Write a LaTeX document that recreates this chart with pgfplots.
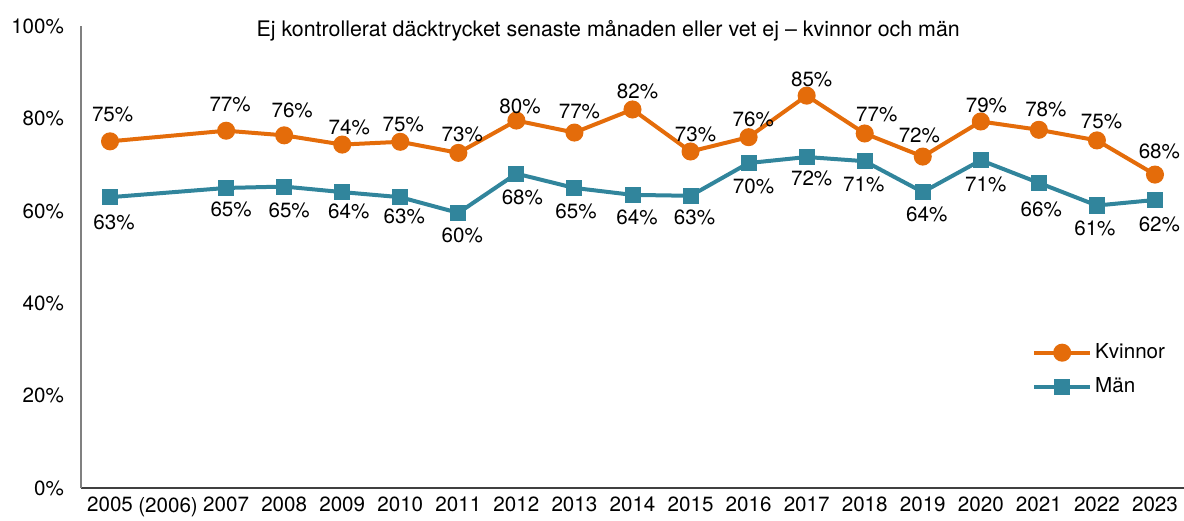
\documentclass[border=0pt]{standalone}
\usepackage{pgfplots}
\usepackage{pgfplotstable}
\pgfplotsset{compat=1.18}
\usepackage{fontspec}
\setmainfont{TeX Gyre Heros}
\definecolor{kv}{HTML}{E46C0A}
\definecolor{ma}{HTML}{31859C}
% x = category index, y = value (%), dx/dy = label offset in pt
\pgfplotstableread{
x  y     dx    dy
0  75.1  1.3   13.3
2  77.4  2.0   13.0
3  76.4  4.0   12.5
4  74.4  3.5   8.8
5  75.0  1.5   8.7
6  72.6  2.0   9.2
7  79.6  1.8   7.2
8  77.0  2.5   10.5
9  82.0  2.5   9.2
10 72.9  2.5   8.3
11 76.0  2.3   8.7
12 85.0  2.5   8.0
13 76.8  6.0   9.5
14 71.8  -1.7  10.8
15 79.4  2.8   8.0
16 77.6  3.5   10.0
17 75.3  2.3   9.5
18 67.9  2.2   11.7
}\kvinnor
\pgfplotstableread{
x  y     dx    dy
0  63.0  2.0   -12.5
2  65.0  2.5   -10.8
3  65.3  2.5   -11.7
4  64.1  3.3   -9.7
5  63.0  2.0   -9.7
6  59.6  2.0   -11.5
7  68.1  3.0   -11.7
8  65.0  0.8   -11.7
9  63.5  2.3   -11.2
10 63.3  2.0   -10.7
11 70.4  2.5   -11.7
12 71.7  2.5   -10.5
13 70.8  -0.5  -11.7
14 64.1  2.0   -11.3
15 71.0  2.5   -12.2
16 66.1  1.2   -13.3
17 61.2  -1.0  -11.3
18 62.4  2.2   -12.0
}\maen
\begin{document}
\begin{tikzpicture}
\begin{axis}[
  width=551.5pt, height=230.8pt, scale only axis,
  xmin=-0.5, xmax=18.5, ymin=0, ymax=100,
  /pgf/number format/assume math mode=true,
  axis x line=bottom, axis y line=left, axis line style={-},
  x axis line style={color=black!75, line width=0.7pt},
  y axis line style={color=black!50, line width=0.7pt},
  xtick={0,...,18},
  xticklabels={2005,(2006),2007,2008,2009,2010,2011,2012,2013,2014,2015,2016,2017,2018,2019,2020,2021,2022,2023},
  ytick={0,20,...,100},
  yticklabel={\pgfmathprintnumber{\tick}\%},
  major tick length=0pt,
  tick label style={font=\fontsize{10.3}{12}\selectfont},
  yticklabel style={xshift=-5pt},
  xticklabel style={yshift=-1pt},
  clip=false,
  nodes near coords={\pgfmathprintnumber[fixed,precision=0]{\pgfplotspointmeta}\%},
  visualization depends on={\thisrow{dx} \as \ldx},
  visualization depends on={\thisrow{dy} \as \ldy},
  every node near coord/.append style={anchor=center, xshift=\ldx pt, yshift=\ldy pt,
    color=black, font=\fontsize{10.3}{12}\selectfont, inner sep=0pt},
  legend style={draw=none, fill=none, at={(rel axis cs:0.862,0.32)}, anchor=north west,
    font=\fontsize{10.3}{12}\selectfont, row sep=5pt, inner sep=0pt,
    legend cell align=left, nodes={inner sep=1.5pt}},
  legend image code/.code={\draw[mark repeat=2,mark phase=2,#1] plot coordinates {(0pt,0pt) (14pt,0pt) (28pt,0pt)};},
]
\addplot[color=kv, line width=2pt, mark=*, mark size=3.5pt, mark options={solid}]
  table[x=x, y=y] {\kvinnor};
\addlegendentry{Kvinnor}
\addplot[color=ma, line width=2pt, mark=square*, mark size=3pt, mark options={solid}]
  table[x=x, y=y] {\maen};
\addlegendentry{Män}
\node[font=\fontsize{10.7}{12}\selectfont] at (rel axis cs:0.478,0.991) {Ej kontrollerat däcktrycket senaste månaden eller vet ej -- kvinnor och män};
\end{axis}
\pgfresetboundingbox
\path (current axis.south west) ++(-40.5pt,-16pt) rectangle ++(592pt,260pt);
\end{tikzpicture}
\end{document}
